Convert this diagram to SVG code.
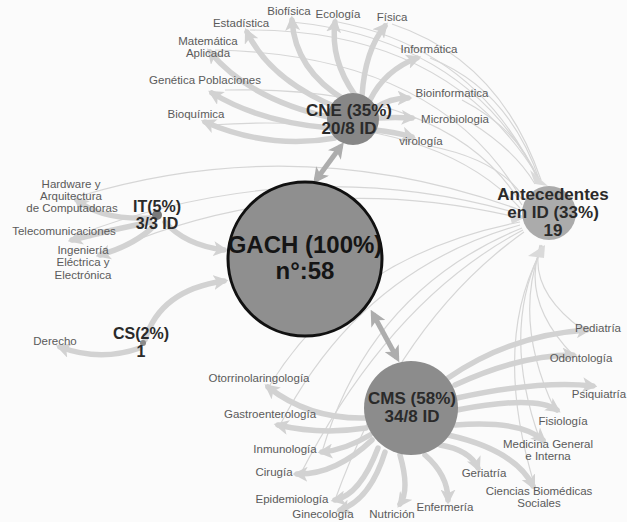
<svg xmlns="http://www.w3.org/2000/svg" width="627" height="522" viewBox="0 0 627 522">
<defs>
<style>
.lbl{font-family:"Liberation Sans",Arial,sans-serif;font-size:11.5px;fill:#5a5a5a;text-anchor:middle}
.nl{font-family:"Liberation Sans",Arial,sans-serif;font-weight:bold;font-size:17px;fill:#2a2a2a;text-anchor:middle}
.sm{font-size:16px}
.thick{fill:none;stroke:#d2d2d2;stroke-width:5.5;stroke-linecap:round}
.thin{fill:none;stroke:#d6d6d6;stroke-width:1.2}
.dbl{fill:none;stroke:#adadad;stroke-width:5}
</style>
<marker id="ah" viewBox="0 0 10 10" refX="7" refY="5" markerUnits="userSpaceOnUse" markerWidth="15" markerHeight="15" orient="auto">
<path d="M0,0 L10,5 L0,10 L2.5,5 z" fill="#d2d2d2"/>
</marker>
<marker id="ahd" viewBox="0 0 10 10" refX="7" refY="5" markerUnits="userSpaceOnUse" markerWidth="16" markerHeight="16" orient="auto-start-reverse">
<path d="M0,0 L10,5 L0,10 L2.5,5 z" fill="#adadad"/>
</marker>
</defs>
<rect width="627" height="522" fill="#fbfbfb"/>

<g id="connectors">
<g>
<path class="thin" d="M250,30 Q450,30 540,180"/>
<path class="thin" d="M292,22 Q470,40 540,182"/>
<path class="thin" d="M338,22 Q480,50 540,184"/>
<path class="thin" d="M392,24 Q500,60 541,180"/>
<path class="thin" d="M430,58 Q510,90 540,182"/>
<path class="thin" d="M215,50 Q440,55 522,200"/>
<path class="thin" d="M225,90 Q450,85 522,205"/>
<path class="thin" d="M210,125 Q430,110 520,208"/>
<path class="thin" d="M462,100 Q520,130 538,180"/>
<path class="thin" d="M470,122 Q515,150 535,184"/>
<path class="thin" d="M430,146 Q500,160 524,198"/>
<path class="thin" d="M80,196 Q300,130 520,210"/>
<path class="thin" d="M75,236 Q300,150 520,214"/>
<path class="thin" d="M100,255 Q300,165 520,218"/>
<path class="thin" d="M270,385 Q350,255 520,222"/>
<path class="thin" d="M280,425 Q360,270 520,225"/>
<path class="thin" d="M322,452 Q370,290 522,228"/>
<path class="thin" d="M300,475 Q390,300 523,230"/>
<path class="thin" d="M335,500 Q400,320 524,232"/>
<path class="thin" d="M583,330 Q528,290 540,245"/>
<path class="thin" d="M573,355 Q520,300 541,245"/>
<path class="thin" d="M555,410 Q512,320 542,245"/>
<path class="thin" d="M540,440 Q500,330 543,246"/>
<path class="thin" d="M535,487 Q490,340 544,246"/>
</g>
<path d="M530,170 L548,186 L535,184 z" fill="#dadada"/>
<path d="M508,210 L526,217 L512,224 z" fill="#dadada"/>
<path d="M528,256 L545,245 L544,258 z" fill="#dadada"/>

<path class="thick" marker-end="url(#ah)" d="M335,138 Q270,150 205,122"/>
<path class="thick" marker-end="url(#ah)" d="M330,128 Q260,122 212,93"/>
<path class="thick" marker-end="url(#ah)" d="M333,118 Q250,100 210,52"/>
<path class="thick" marker-end="url(#ah)" d="M338,108 Q270,80 247,32"/>
<path class="thick" marker-end="url(#ah)" d="M345,100 Q295,70 292,20"/>
<path class="thick" marker-end="url(#ah)" d="M355,95 Q330,60 335,22"/>
<path class="thick" marker-end="url(#ah)" d="M362,96 Q365,50 385,26"/>
<path class="thick" marker-end="url(#ah)" d="M370,100 Q385,70 417,58"/>
<path class="thick" marker-end="url(#ah)" d="M375,108 Q390,98 408,98"/>
<path class="thick" marker-end="url(#ah)" d="M379,118 Q395,117 412,118"/>
<path class="thick" marker-end="url(#ah)" d="M375,130 Q395,132 412,137"/>

<path class="thick" marker-end="url(#ah)" d="M368,418 Q310,420 268,387"/>
<path class="thick" marker-end="url(#ah)" d="M366,428 Q320,435 278,425"/>
<path class="thick" marker-end="url(#ah)" d="M370,435 Q345,450 322,452"/>
<path class="thick" marker-end="url(#ah)" d="M372,440 Q335,475 297,474"/>
<path class="thick" marker-end="url(#ah)" d="M378,448 Q360,495 335,500"/>
<path class="thick" marker-end="url(#ah)" d="M385,452 Q370,500 340,510"/>
<path class="thick" marker-end="url(#ah)" d="M400,455 Q410,490 400,504"/>
<path class="thick" marker-end="url(#ah)" d="M425,455 Q448,475 448,500"/>
<path class="thick" marker-end="url(#ah)" d="M440,445 Q470,450 478,468"/>
<path class="thick" marker-end="url(#ah)" d="M448,435 Q515,450 533,486"/>
<path class="thick" marker-end="url(#ah)" d="M455,425 Q520,420 543,440"/>
<path class="thick" marker-end="url(#ah)" d="M457,410 Q535,395 557,410"/>
<path class="thick" marker-end="url(#ah)" d="M457,398 Q540,380 593,386"/>
<path class="thick" marker-end="url(#ah)" d="M455,385 Q520,355 573,355"/>
<path class="thick" marker-end="url(#ah)" d="M448,378 Q510,335 587,330"/>

<path class="thick" marker-end="url(#ah)" d="M150,218 Q100,220 77,200"/>
<path class="thick" marker-end="url(#ah)" d="M150,222 Q110,230 72,240"/>
<path class="thick" marker-end="url(#ah)" d="M155,225 Q135,245 100,255"/>
<path class="thick" marker-end="url(#ah)" d="M165,222 Q185,245 224,250"/>

<path class="thick" marker-end="url(#ah)" d="M140,348 Q100,362 60,347"/>
<path class="thick" marker-end="url(#ah)" d="M145,340 Q160,290 224,281"/>

<path class="dbl" marker-start="url(#ahd)" marker-end="url(#ahd)" d="M341,146 L316,180"/>
<path class="dbl" marker-start="url(#ahd)" marker-end="url(#ahd)" d="M373,314 L397,358"/>
</g>

<g id="GACH">
<circle cx="305" cy="259" r="77" fill="#8f8f8f" stroke="#111" stroke-width="3"/>
<text class="nl" x="305" y="253" style="font-size:24px;fill:#151515">GACH (100%)</text>
<text class="nl" x="305" y="279" style="font-size:24px;fill:#151515">n°:58</text>
</g>

<g id="CNE">
<circle cx="353" cy="119" r="26" fill="#878787"/>
<text class="nl" x="349" y="116">CNE (35%)</text>
<text class="nl" x="349" y="134">20/8 ID</text>
</g>

<g id="CMS">
<circle cx="411" cy="408" r="47" fill="#8c8c8c"/>
<text class="nl" x="412" y="404">CMS (58%)</text>
<text class="nl" x="412" y="422">34/8 ID</text>
</g>

<g id="Antecedentes">
<circle cx="549" cy="213" r="27" fill="#ababab"/>
<text class="nl" x="553" y="200">Antecedentes</text>
<text class="nl" x="553" y="218">en ID (33%)</text>
<text class="nl" x="553" y="236">19</text>
</g>

<g id="IT">
<circle cx="157" cy="215" r="5" fill="#7a7a7a"/>
<text class="nl sm" x="157" y="212">IT(5%)</text>
<text class="nl sm" x="157" y="229">3/3 ID</text>
</g>

<g id="CS">
<circle cx="143" cy="343" r="3" fill="#8a8a8a"/>
<text class="nl sm" x="141" y="339">CS(2%)</text>
<text class="nl sm" x="141" y="357">1</text>
</g>

<g id="labels-CNE">
<text class="lbl" x="289" y="15">Biofísica</text>
<text class="lbl" x="338" y="18">Ecología</text>
<text class="lbl" x="392" y="21">Física</text>
<text class="lbl" x="241" y="27">Estadística</text>
<text class="lbl" x="208" y="45">Matemática</text>
<text class="lbl" x="208" y="57">Aplicada</text>
<text class="lbl" x="429" y="53">Informática</text>
<text class="lbl" x="205" y="84">Genética Poblaciones</text>
<text class="lbl" x="452" y="97">Bioinformatica</text>
<text class="lbl" x="196" y="118">Bioquímica</text>
<text class="lbl" x="455" y="123">Microbiologia</text>
<text class="lbl" x="421" y="145">virología</text>
</g>

<g id="labels-IT">
<text class="lbl" x="71" y="188">Hardware y</text>
<text class="lbl" x="71" y="200">Arquitectura</text>
<text class="lbl" x="72" y="212">de Computadoras</text>
<text class="lbl" x="64" y="235">Telecomunicaciones</text>
<text class="lbl" x="83" y="254">Ingeniería</text>
<text class="lbl" x="83" y="266">Eléctrica y</text>
<text class="lbl" x="83" y="279">Electrónica</text>
</g>

<g id="labels-CS">
<text class="lbl" x="55" y="345">Derecho</text>
</g>

<g id="labels-CMS">
<text class="lbl" x="259" y="382">Otorrinolaringología</text>
<text class="lbl" x="270" y="418">Gastroenterología</text>
<text class="lbl" x="285" y="453">Inmunología</text>
<text class="lbl" x="274" y="476">Cirugía</text>
<text class="lbl" x="292" y="503">Epidemiología</text>
<text class="lbl" x="323" y="518">Ginecología</text>
<text class="lbl" x="392" y="518">Nutrición</text>
<text class="lbl" x="445" y="511">Enfermería</text>
<text class="lbl" x="598" y="332">Pediatría</text>
<text class="lbl" x="581" y="362">Odontología</text>
<text class="lbl" x="599" y="398">Psiquiatría</text>
<text class="lbl" x="563" y="425">Fisiología</text>
<text class="lbl" x="548" y="448">Medicina General</text>
<text class="lbl" x="548" y="460">e Interna</text>
<text class="lbl" x="484" y="477">Geriatría</text>
<text class="lbl" x="539" y="495">Ciencias Biomédicas</text>
<text class="lbl" x="539" y="507">Sociales</text>
</g>
</svg>
